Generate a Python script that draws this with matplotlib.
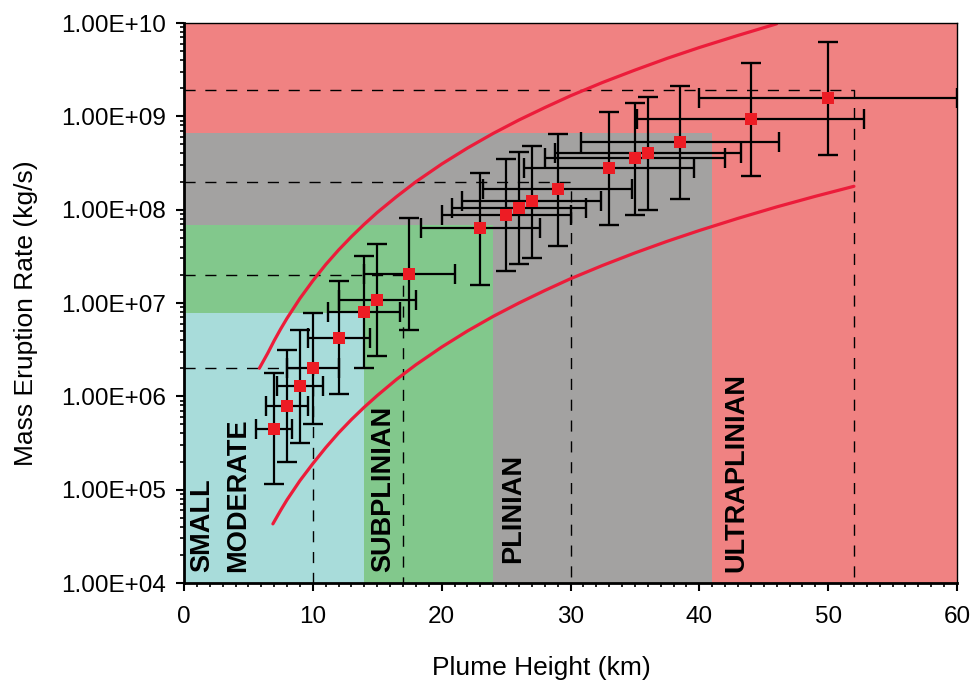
import matplotlib
matplotlib.use("Agg")
import matplotlib.pyplot as plt
from matplotlib.ticker import FixedLocator, FuncFormatter, MultipleLocator, NullFormatter

plt.rcParams["font.family"] = ["Liberation Sans", "DejaVu Sans"]

# eruption classes: right edge (km) and top (kg/s) of each shaded box
class_names = ["ULTRAPLINIAN", "PLINIAN", "SUBPLINIAN", "SMALL / MODERATE"]
class_height_max = [60, 41, 24, 14]
class_rate_max = [1.0e10, 6.6e8, 6.8e7, 7.8e6]
class_colors = ["#f08282", "#a3a2a1", "#82c88c", "#a8dcda"]

# reference heights and rates (dashed guides)
ref_heights = [10, 17, 30, 52]
ref_rates = [2.0e6, 2.0e7, 2.0e8, 1.9e9]

# upper and lower bounding curves
upper_h = [5.85, 6.5, 7, 7.5, 8, 9, 10, 11, 12, 13, 14, 15, 16.5, 18, 20, 22, 24, 26, 28, 30,
           32.5, 35, 37.5, 40, 43, 46]
upper_rate = [2.0e6, 2.9e6, 3.95e6, 5.26e6, 6.87e6, 1.12e7, 1.73e7, 2.58e7, 3.7e7, 5.15e7, 7.0e7,
              9.33e7, 1.38e8, 1.99e8, 3.08e8, 4.57e8, 6.56e8, 9.14e8, 1.24e9, 1.66e9, 2.31e9,
              3.13e9, 4.18e9, 5.46e9, 7.36e9, 9.8e9]
lower_h = [6.9, 7.5, 8, 9, 10, 11, 12, 13, 14, 15, 16.5, 18, 20, 22, 24, 26, 28, 30, 32.5, 35,
           37.5, 40, 43, 46, 49, 52]
lower_rate = [4.3e4, 6.0e4, 7.8e4, 1.25e5, 1.9e5, 2.82e5, 4.06e5, 5.65e5, 7.67e5, 1.02e6, 1.52e6,
              2.18e6, 3.37e6, 5.01e6, 7.19e6, 1.0e7, 1.36e7, 1.82e7, 2.53e7, 3.44e7, 4.58e7,
              5.98e7, 8.07e7, 1.07e8, 1.39e8, 1.78e8]

# eruptions
height = [7, 8, 9, 10, 12, 14, 15, 17.5, 23, 25, 26, 27, 29, 33, 35, 36, 38.5, 44, 50]
height_err = [1.4, 1.6, 1.8, 2.0, 2.4, 2.8, 3.0, 3.5, 4.6, 5.0, 5.2, 5.4, 5.8, 6.6, 7.0, 7.2, 7.7, 8.8, 10.0]
rate = [4.5e5, 7.9e5, 1.3e6, 2.0e6, 4.2e6, 8.1e6, 1.07e7, 2.03e7, 6.3e7, 8.8e7, 1.05e8, 1.23e8,
        1.66e8, 2.8e8, 3.6e8, 4.0e8, 5.3e8, 9.3e8, 1.58e9]
rate_low = [1.14e5, 2.0e5, 3.2e5, 5.0e5, 1.05e6, 2.0e6, 2.7e6, 5.1e6, 1.57e7, 2.2e7, 2.6e7, 3.0e7,
            4.1e7, 6.9e7, 8.8e7, 9.9e7, 1.3e8, 2.3e8, 3.9e8]
rate_high = [1.8e6, 3.1e6, 5.1e6, 7.9e6, 1.7e7, 3.2e7, 4.3e7, 8.1e7, 2.45e8, 3.5e8, 4.15e8, 4.8e8,
             6.5e8, 1.1e9, 1.4e9, 1.6e9, 2.1e9, 3.7e9, 6.2e9]

y_ticks = [1e4, 1e5, 1e6, 1e7, 1e8, 1e9, 1e10]

fig = plt.figure(figsize=(9.73, 6.81), dpi=100)
ax = fig.add_axes([184 / 973, 98 / 681, 773 / 973, 560 / 681])
ax.set_yscale("log")
ax.set_xlim(0, 60)
ax.set_ylim(1e4, 1e10)

for xmax, ymax, col in zip(class_height_max, class_rate_max, class_colors):
    ax.fill_between([0, xmax], 1e4, ymax, color=col, lw=0, zorder=0)

for h, r in zip(ref_heights, ref_rates):
    ax.plot([0, h, h], [r, r, 1e4], color="black", lw=1.0, dashes=(8, 7), zorder=1)

ax.plot(upper_h, upper_rate, color="#ec1c3a", lw=2.3, solid_capstyle="round", zorder=2)
ax.plot(lower_h, lower_rate, color="#ec1c3a", lw=2.3, solid_capstyle="round", zorder=2)

yerr = [[r - lo for r, lo in zip(rate, rate_low)], [hi - r for r, hi in zip(rate, rate_high)]]
ax.errorbar(height, rate, xerr=height_err, yerr=yerr, fmt="none", ecolor="black",
            elinewidth=1.6, capsize=7, capthick=1.7, zorder=3)
ax.plot(height, rate, "s", color="#ed1c24", ms=8.3, mew=0, zorder=4)

# class labels
label_kw = dict(rotation=90, ha="center", va="bottom", fontsize=19.5, fontweight="bold", zorder=5)
ax.text(1.45, 1.32e4, "SMALL", **label_kw)
ax.text(4.2, 1.32e4, "MODERATE", **label_kw)
ax.text(15.45, 1.32e4, "SUBPLINIAN", **label_kw)
ax.text(25.55, 1.64e4, "PLINIAN", **label_kw)
ax.text(42.85, 1.32e4, "ULTRAPLINIAN", **label_kw)

ax.xaxis.set_major_locator(MultipleLocator(10))
ax.xaxis.set_minor_locator(MultipleLocator(1))
ax.yaxis.set_major_locator(FixedLocator(y_ticks))
ax.yaxis.set_minor_locator(FixedLocator([t * k for t in y_ticks[:-1] for k in range(2, 10)]))
ax.yaxis.set_minor_formatter(NullFormatter())
ax.yaxis.set_major_formatter(FuncFormatter(lambda v, p: f"{v:.2E}"))

ax.tick_params(which="major", direction="out", length=5.8, width=1.5, labelsize=17.5)
ax.tick_params(which="minor", direction="out", length=3.2, width=1.2)
ax.tick_params(axis="x", which="major", pad=11)
ax.tick_params(axis="y", which="major", pad=7)

for side in ["left", "bottom"]:
    ax.spines[side].set_linewidth(2)
for side in ["top", "right"]:
    ax.spines[side].set_linewidth(1)

ax.set_xlabel("Plume Height (km)", fontsize=19, va="baseline")
ax.xaxis.set_label_coords(0.462, -0.1643)
ax.set_ylabel("Mass Eruption Rate (kg/s)", fontsize=19, va="baseline")
ax.yaxis.set_label_coords(-0.1953, 0.4816)

fig.savefig("out.png", dpi=100)
